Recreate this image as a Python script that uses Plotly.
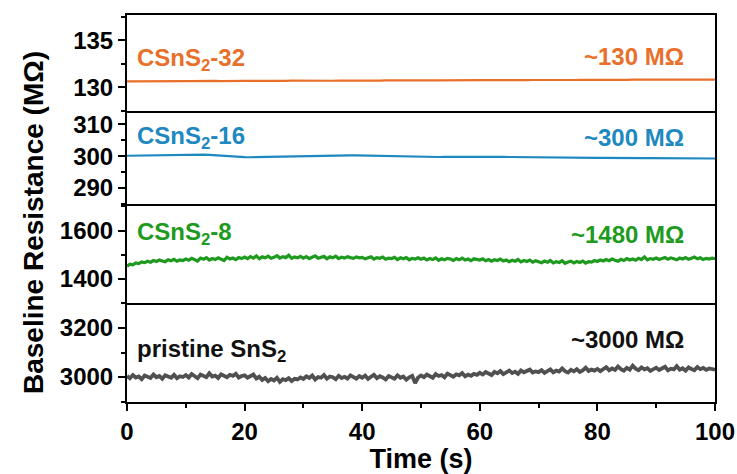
import plotly.graph_objects as go

# ---------------- data ----------------
t_fine = [i * 0.5 for i in range(201)]   # 0 .. 100 s, step 0.5
t_coarse = list(range(101))              # 0 .. 100 s, step 1

r_cs32 = [
    130.62, 130.63, 130.62, 130.64, 130.63, 130.62, 130.64, 130.65, 130.63, 130.64,
    130.65, 130.64, 130.66, 130.65, 130.64, 130.66, 130.65, 130.67, 130.66, 130.65,
    130.66, 130.67, 130.66, 130.68, 130.67, 130.66, 130.68, 130.67, 130.69, 130.68,
    130.67, 130.69, 130.68, 130.70, 130.69, 130.68, 130.70, 130.69, 130.70, 130.71,
    130.70, 130.69, 130.71, 130.70, 130.72, 130.71, 130.70, 130.72, 130.71, 130.72,
    130.73, 130.72, 130.71, 130.73, 130.72, 130.74, 130.73, 130.72, 130.74, 130.73,
    130.74, 130.75, 130.74, 130.73, 130.75, 130.74, 130.76, 130.75, 130.74, 130.76,
    130.75, 130.76, 130.77, 130.76, 130.75, 130.77, 130.76, 130.78, 130.77, 130.76,
    130.78, 130.77, 130.78, 130.79, 130.78, 130.77, 130.79, 130.78, 130.80, 130.79,
    130.78, 130.80, 130.79, 130.80, 130.81, 130.80, 130.79, 130.81, 130.80, 130.81,
    130.80,
]

r_cs16 = [
    300.15, 300.18, 300.22, 300.20, 300.25, 300.28, 300.30, 300.35, 300.40, 300.45,
    300.50, 300.55, 300.58, 300.50, 300.40, 300.25, 300.10, 299.95, 299.85, 299.75,
    299.70, 299.68, 299.72, 299.80, 299.85, 299.90, 299.95, 300.00, 300.05, 300.10,
    300.12, 300.15, 300.20, 300.25, 300.28, 300.30, 300.32, 300.30, 300.28, 300.25,
    300.20, 300.18, 300.12, 300.08, 300.05, 300.00, 299.95, 299.90, 299.88, 299.85,
    299.82, 299.80, 299.78, 299.75, 299.78, 299.80, 299.82, 299.80, 299.78, 299.80,
    299.82, 299.85, 299.83, 299.80, 299.78, 299.75, 299.72, 299.70, 299.68, 299.70,
    299.72, 299.70, 299.68, 299.65, 299.62, 299.60, 299.58, 299.55, 299.52, 299.50,
    299.48, 299.50, 299.52, 299.50, 299.48, 299.45, 299.42, 299.40, 299.42, 299.40,
    299.38, 299.35, 299.38, 299.40, 299.38, 299.35, 299.32, 299.30, 299.28, 299.30,
    299.28,
]

r_cs8 = [
    1452, 1461, 1458, 1466, 1463, 1470, 1467, 1473, 1469, 1476, 1472, 1478, 1474, 1471, 1479, 1475, 1481, 1473, 1478, 1476,
    1482, 1477, 1485, 1479, 1474, 1486, 1481, 1488, 1478, 1484, 1480, 1487, 1483, 1476, 1489, 1482, 1486, 1480, 1488, 1484,
    1490, 1484, 1492, 1486, 1495, 1483, 1491, 1487, 1494, 1485, 1489, 1496, 1486, 1492, 1488, 1498, 1485, 1491, 1487, 1493,
    1486, 1492, 1484, 1490, 1495, 1485, 1489, 1493, 1483, 1491, 1487, 1494, 1484, 1490, 1486, 1492, 1488, 1485, 1491, 1487,
    1489, 1483, 1487, 1491, 1482, 1488, 1485, 1490, 1481, 1486, 1484, 1489, 1480, 1487, 1483, 1488, 1479, 1485, 1482, 1487,
    1481, 1486, 1478, 1484, 1480, 1487, 1477, 1483, 1479, 1485, 1482, 1476, 1484, 1479, 1486, 1478, 1482, 1475, 1483, 1480,
    1478, 1483, 1475, 1480, 1473, 1479, 1476, 1482, 1474, 1478, 1471, 1477, 1473, 1480, 1470, 1476, 1472, 1478, 1469, 1475,
    1472, 1467, 1474, 1469, 1476, 1466, 1471, 1468, 1475, 1464, 1470, 1473, 1466, 1472, 1468, 1474, 1465, 1471, 1469, 1476,
    1472, 1478, 1474, 1480, 1475, 1482, 1477, 1473, 1481, 1476, 1484, 1478, 1482, 1477, 1485, 1480, 1491, 1479, 1484, 1481,
    1486, 1480, 1484, 1488, 1481, 1487, 1483, 1479, 1486, 1482, 1488, 1481, 1485, 1490, 1483, 1487, 1480, 1485, 1482, 1486,
    1484,
]

r_pristine = [
    3004, 2995, 3008, 2998, 3002, 2991, 3006, 3000, 2996, 3010, 2999, 3004, 2993, 3007, 3001, 2997, 3009, 2995, 3003, 3000,
    3008, 2998, 3012, 3001, 2995, 3010, 3004, 2999, 3015, 3002, 3006, 2996, 3011, 3003, 2999, 3009, 3005, 3013, 2998, 3004,
    3007, 2997, 3002, 3010, 2994, 3001, 2988, 2996, 2983, 2992, 2986, 2997, 2980, 2991, 2987, 2995, 2984, 2993, 2990, 2998,
    2992, 3003, 2996, 3006, 2990, 3000, 2997, 3008, 2993, 3002, 2999, 2991, 3005, 2996, 3001, 2994, 3007, 2998, 2993, 3004,
    2997, 3006, 2992, 3001, 3009, 2995, 3003, 2998, 2990, 3004, 3000, 2993, 3007, 2997, 3002, 2989, 2999, 3005, 2975, 2998,
    3006, 2999, 3010, 3003, 2997, 3012, 3004, 3008, 2999, 3014, 3006, 3001, 3011, 3007, 3016, 3003, 3010, 3005, 3013, 3009,
    3017, 3010, 3020, 3014, 3008, 3021, 3015, 3024, 3012, 3019, 3026, 3016, 3022, 3013, 3027, 3019, 3024, 3030, 3018, 3023,
    3020, 3028, 3017, 3025, 3031, 3019, 3026, 3022, 3035, 3024, 3018, 3029, 3023, 3032, 3021, 3027, 3038, 3025, 3030, 3026,
    3033, 3024, 3031, 3040, 3027, 3035, 3029, 3043, 3032, 3026, 3037, 3030, 3046, 3034, 3028, 3039, 3031, 3036, 3025, 3033,
    3038, 3029, 3035, 3042, 3027, 3034, 3031, 3044, 3030, 3036, 3026, 3039, 3033, 3028, 3041, 3032, 3037, 3029, 3035, 3031,
    3030,
]

sample_names = ["CSnS<sub>2</sub>-32", "CSnS<sub>2</sub>-16", "CSnS<sub>2</sub>-8", "pristine SnS<sub>2</sub>"]
value_labels = ["~130 MΩ", "~300 MΩ", "~1480 MΩ", "~3000 MΩ"]
x_ticks = [0, 20, 40, 60, 80, 100]
x_minor = [10, 30, 50, 70, 90]
y_ticks = [[130, 135], [290, 300, 310], [1400, 1600], [3000, 3200]]
y_minor = [[127.5, 132.5, 137.5], [285, 295, 305], [1300, 1500, 1700], [2900, 3100, 3300]]
y_ranges = [[127.45, 137.7], [285.0, 314.2], [1300, 1710], [2898, 3302]]

# ---------------- styling ----------------
colors = ["#E8702A", "#1E88C0", "#1E9A1E", "#505050"]
text_colors = ["#E8702A", "#1E88C0", "#1E9A1E", "#111111"]
widths = [2.2, 2.2, 3.2, 3.8]
FONT = "Liberation Sans, Arial, sans-serif"
TICK = 24
ANN = 24
TITLE = 27

# panel domains (top -> bottom), in pixels of the plot area
H = 387.0
def dom(top_px, bot_px):
    return [(402 - bot_px) / H, (402 - top_px) / H]
domains = [dom(15, 111), dom(111, 204), dom(204, 303), dom(303, 402)]

xs = [t_coarse, t_coarse, t_fine, t_fine]
ys = [r_cs32, r_cs16, r_cs8, r_pristine]

fig = go.Figure()
for i in range(4):
    k = "" if i == 3 else str(i + 2)
    fig.add_trace(go.Scatter(x=xs[i], y=ys[i], mode="lines",
                             line=dict(color=colors[i], width=widths[i]),
                             xaxis="x" + k, yaxis="y" + k, showlegend=False))

layout = dict(
    width=737, height=474,
    margin=dict(l=127, r=22, t=15, b=72, autoexpand=False),
    paper_bgcolor="white", plot_bgcolor="white",
    font=dict(family=FONT, size=22, color="black"),
    showlegend=False,
)

for i in range(4):
    k = "" if i == 3 else str(i + 2)
    bottom = (i == 3)
    xa = dict(
        domain=[0, 1], range=[0, 100], anchor="y" + k, automargin=False,
        showline=True, linecolor="black", linewidth=2,
        mirror=(i == 0),
        showgrid=False, zeroline=False,
    )
    if bottom:
        xa.update(
            ticks="outside", ticklen=7, tickwidth=2, tickcolor="black",
            tickvals=x_ticks, showticklabels=True,
            tickfont=dict(family=FONT, size=TICK, color="black", weight="bold"),
            minor=dict(tickvals=x_minor, ticks="outside", ticklen=4,
                       tickwidth=2, tickcolor="black"),
            title=dict(text="<b>Time (s)</b>", font=dict(family=FONT, size=TITLE), standoff=4),
        )
    else:
        xa.update(ticks="", showticklabels=False, matches="x")
    layout["xaxis" + k] = xa
    layout["yaxis" + k] = dict(
        domain=domains[i], range=y_ranges[i], anchor="x" + k, automargin=False,
        showline=True, linecolor="black", linewidth=2, mirror=True,
        showgrid=False, zeroline=False,
        ticks="outside", ticklen=7, tickwidth=2, tickcolor="black",
        tickvals=y_ticks[i],
        tickfont=dict(family=FONT, size=TICK, color="black", weight="bold"),
        minor=dict(tickvals=y_minor[i], ticks="outside", ticklen=4, tickwidth=2, tickcolor="black"),
    )

fig.update_layout(**layout)

# text labels
left_y = [(402 - 60) / H, (402 - 137) / H, (402 - 233) / H, (402 - 350) / H]
right_y = [(402 - 56) / H, (402 - 137) / H, (402 - 234) / H, (402 - 339) / H]
for i in range(4):
    fig.add_annotation(x=(135 - 127) / 588, y=left_y[i], xref="paper", yref="paper",
                       text="<b>" + sample_names[i] + "</b>", showarrow=False,
                       xanchor="left", yanchor="middle",
                       font=dict(family=FONT, size=ANN, color=text_colors[i]))
    fig.add_annotation(x=(686 - 127) / 588, y=right_y[i], xref="paper", yref="paper",
                       text="<b>" + value_labels[i] + "</b>", showarrow=False,
                       xanchor="right", yanchor="middle",
                       font=dict(family=FONT, size=ANN, color=text_colors[i]))

fig.add_annotation(x=(34 - 127) / 588, y=(402 - 223) / H, xref="paper", yref="paper",
                   text="<b>Baseline Resistance (MΩ)</b>", textangle=-90, showarrow=False,
                   xanchor="center", yanchor="middle",
                   font=dict(family=FONT, size=28, color="black"))

fig.write_html("out.html", config={"displayModeBar": False},
               post_script="document.body.style.margin='0';document.body.style.padding='0';")
